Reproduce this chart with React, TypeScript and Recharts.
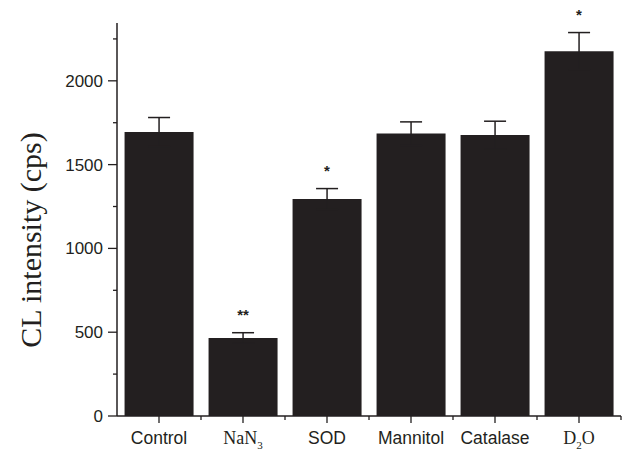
import {Bar, ComposedChart, ErrorBar, LabelList, Line, XAxis, YAxis} from 'recharts';

const categories = ['Control', 'NaN3', 'SOD', 'Mannitol', 'Catalase', 'D2O'];
const intensity = [1695, 466, 1295, 1685, 1676, 2177];
const errors = [86, 31, 62, 70, 83, 111];
const significance = ['', '**', '*', '', '', '*'];
const yTicks = [0, 250, 500, 750, 1000, 1250, 1500, 1750, 2000, 2250];
const yMax = 2345;

const INK = '#231f20';
const SANS = '"Liberation Sans", Arial, Helvetica, sans-serif';
const SERIF = '"Liberation Serif", "Times New Roman", Times, serif';
const HALF_BAND = 42;

const data = categories.map((name, i) => ({
    name,
    value: intensity[i],
    err: errors[i],
    capTop: intensity[i] + errors[i],
    sig: significance[i],
}));

function YTick({x, y, payload}: any) {
    const major = payload.value % 500 === 0;
    return (
        <g>
            <line x1={x - (major ? 9 : 4)} x2={x} y1={y} y2={y} stroke={INK} strokeWidth={1.3}/>
            {major && (
                <text x={x - 14} y={y} dy={6} textAnchor="end" fontFamily={SANS} fontSize={17} fill={INK}>
                    {payload.value}
                </text>
            )}
        </g>
    );
}

function XTick({x, y, payload}: any) {
    const label: string = payload.value;
    const hasSub = /\d/.test(label);
    const parts = label.split(/(\d+)/).filter(p => p !== '');
    return (
        <g>
            <line x1={x} x2={x} y1={y} y2={y + 7} stroke={INK} strokeWidth={1.3}/>
            <line x1={x + HALF_BAND} x2={x + HALF_BAND} y1={y} y2={y + 4} stroke={INK} strokeWidth={1.3}/>
            {hasSub ? (
                <text x={x} y={y + 28} textAnchor="middle" fontFamily={SERIF} fontSize={18} fill={INK}>
                    {parts.map((p, i) =>
                        /\d/.test(p)
                            ? <tspan key={i} fontSize={11} dy={5}>{p}</tspan>
                            : <tspan key={i} dy={i > 0 ? -5 : 0}>{p}</tspan>
                    )}
                </text>
            ) : (
                <text x={x} y={y + 28} textAnchor="middle" fontFamily={SANS} fontSize={17.5} fill={INK}>
                    {label}
                </text>
            )}
        </g>
    );
}

function Star(props: any) {
    const {x, y, value} = props;
    if (!value) return null;
    return (
        <text x={x} y={y - 13} textAnchor="middle" fontFamily={SANS} fontSize={15} fontWeight="bold" fill={INK}>
            {value}
        </text>
    );
}

export default function App() {
    return (
        <div style={{position: 'absolute', left: 0, top: 0, background: '#fff'}}>
            <ComposedChart width={636} height={460} data={data} barCategoryGap="9%"
                           margin={{top: 23, right: 15, bottom: 4, left: 57}}>
                <XAxis dataKey="name" height={40} tick={<XTick/>} tickSize={0} tickMargin={0}
                       tickLine={false} axisLine={{stroke: INK, strokeWidth: 1.5}} interval={0}/>
                <YAxis width={60} domain={[0, yMax]} ticks={yTicks} tick={<YTick/>} tickSize={0}
                       tickMargin={0} tickLine={false} interval={0}
                       axisLine={{stroke: INK, strokeWidth: 1.5}}
                       label={{
                           content: () => (
                               <text x={30} y={240} transform="rotate(-90 30 240)" textAnchor="middle"
                                     dominantBaseline="central" fontFamily={SERIF} fontSize={30} fill={INK}>
                                   CL intensity (cps)
                               </text>
                           ),
                       }}/>
                <Bar dataKey="value" fill={INK} isAnimationActive={false}>
                    <ErrorBar dataKey="err" width={11} stroke={INK} strokeWidth={1.5} direction="y"/>
                </Bar>
                <Line dataKey="capTop" stroke="none" dot={false} activeDot={false} legendType="none"
                      isAnimationActive={false}>
                    <LabelList dataKey="sig" content={<Star/>}/>
                </Line>
            </ComposedChart>
        </div>
    );
}
